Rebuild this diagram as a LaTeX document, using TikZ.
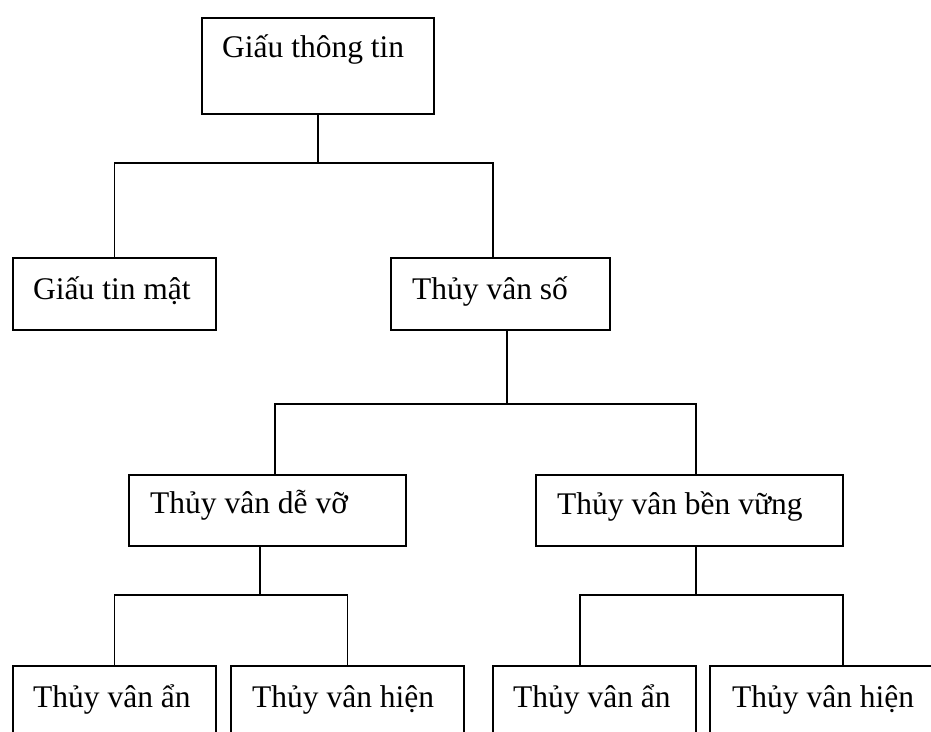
\documentclass[tikz,border=0pt]{standalone}
\usepackage{fontspec}
\setmainfont{Liberation Serif}
\begin{document}
\begin{tikzpicture}[x=1pt,y=-1pt,
  box/.style={draw, line width=1.8pt, inner sep=0pt, anchor=north west},
  lbl/.style={anchor=base west, inner sep=0pt, font=\fontsize{31.5}{36}\selectfont},
  conn/.style={line width=1.8pt}]
\useasboundingbox (0,0) rectangle (931,731);
\clip (0,0) rectangle (931,731);
\fill[white] (0,0) rectangle (931,731);
% boxes
\node[box, minimum width=232pt, minimum height=96pt] (A) at (201,17) {};
\node[box, minimum width=203pt, minimum height=72pt] (B) at (12,257) {};
\node[box, minimum width=219pt, minimum height=72pt] (C) at (390,257) {};
\node[box, minimum width=277pt, minimum height=71pt] (D) at (128,474) {};
\node[box, minimum width=307pt, minimum height=71pt] (E) at (535,474) {};
\node[box, minimum width=203pt, minimum height=95pt] (F) at (12,665) {};
\node[box, minimum width=233pt, minimum height=95pt] (G) at (230,665) {};
\node[box, minimum width=203pt, minimum height=95pt] (H) at (492,665) {};
\node[box, minimum width=236pt, minimum height=95pt] (I) at (709,665) {};
% labels
\node[lbl] (tA) at ([shift={(21,40)}]A.north west) {Giấu thông tin};
\node[lbl] (tB) at ([shift={(21,42)}]B.north west) {Giấu tin mật};
\node[lbl] (tC) at ([shift={(22,42)}]C.north west) {Thủy vân số};
\node[lbl] (tD) at ([shift={(22,39)}]D.north west) {Thủy vân dễ vỡ};
\node[lbl] (tE) at ([shift={(22,40)}]E.north west) {Thủy vân bền vững};
\node[lbl] (tF) at ([shift={(21,42)}]F.north west) {Thủy vân ẩn};
\node[lbl] (tG) at ([shift={(22,42)}]G.north west) {Thủy vân hiện};
\node[lbl] (tH) at ([shift={(21,42)}]H.north west) {Thủy vân ẩn};
\node[lbl] (tI) at ([shift={(23,42)}]I.north west) {Thủy vân hiện};
% connectors
\draw[conn] (A.south) -- ++(0,48) coordinate (j1);
\draw[conn] (B.north) |- (j1) -| ([xshift=-7.5pt]C.north);
\draw[conn] ([xshift=6.5pt]C.south) -- ++(0,73) coordinate (j2);
\draw[conn] ([xshift=7.5pt]D.north) |- (j2) -| ([xshift=6.5pt]E.north);
\draw[conn] ([xshift=-7.5pt]D.south) -- ++(0,48) coordinate (j3);
\draw[conn] (F.north) |- (j3) -| (G.north);
\draw[conn] ([xshift=6.5pt]E.south) -- ++(0,48) coordinate (j4);
\draw[conn] ([xshift=-14.5pt]H.north) |- (j4) -| ([xshift=15pt]I.north);
\end{tikzpicture}
\end{document}
